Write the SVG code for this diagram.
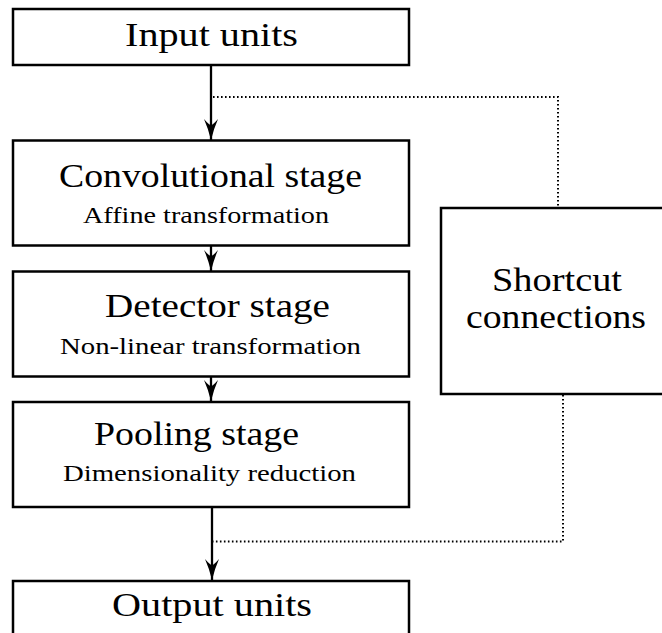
<svg xmlns="http://www.w3.org/2000/svg" width="662" height="633" viewBox="0 0 662 633">
  <style>
    .box { fill: #fff; stroke: #000; stroke-width: 2.5; }
    .flow { fill: none; stroke: #000; stroke-width: 2.3; }
    .dots { fill: none; stroke: #000; stroke-width: 2; stroke-dasharray: 1.6 2.4; }
    .title { font-family: "Liberation Serif", "DejaVu Serif", serif; font-size: 33px; fill: #000; }
    .sub { font-family: "Liberation Serif", "DejaVu Serif", serif; font-size: 23px; fill: #000; }
  </style>
  <defs>
    <marker id="stealth" markerUnits="userSpaceOnUse" viewBox="-24 -9 26 18" refX="0" refY="0" markerWidth="26" markerHeight="18" orient="auto">
      <path d="M0,0 Q-12,-3 -21,-7 Q-15,-1.8 -15,0 Q-15,1.8 -21,7 Q-12,3 0,0 Z" fill="#000"/>
    </marker>
  </defs>

  <g id="connectors">
    <line class="flow" x1="211" y1="65" x2="211" y2="140" marker-end="url(#stealth)"/>
    <line class="flow" x1="211" y1="246" x2="211" y2="271" marker-end="url(#stealth)"/>
    <line class="flow" x1="211" y1="377" x2="211" y2="401" marker-end="url(#stealth)"/>
    <line class="flow" x1="212" y1="508" x2="212" y2="580" marker-end="url(#stealth)"/>
    <polyline class="dots" points="213,97 558,97 558,207"/>
    <polyline class="dots" points="563,395 563,541.5 213,541.5"/>
  </g>

  <g id="input-units">
    <rect class="box" x="13" y="9" width="396" height="56"/>
    <text class="title" x="125" y="46" textLength="173" lengthAdjust="spacingAndGlyphs">Input units</text>
  </g>

  <g id="convolutional-stage">
    <rect class="box" x="13" y="140.5" width="396" height="105"/>
    <text class="title" x="59" y="187" textLength="303" lengthAdjust="spacingAndGlyphs">Convolutional stage</text>
    <text class="sub" x="83" y="222.5" textLength="246" lengthAdjust="spacingAndGlyphs">Affine transformation</text>
  </g>

  <g id="detector-stage">
    <rect class="box" x="13" y="271.5" width="396" height="105"/>
    <text class="title" x="105" y="317" textLength="225" lengthAdjust="spacingAndGlyphs">Detector stage</text>
    <text class="sub" x="60" y="354" textLength="301" lengthAdjust="spacingAndGlyphs">Non-linear transformation</text>
  </g>

  <g id="pooling-stage">
    <rect class="box" x="13" y="402" width="396" height="105"/>
    <text class="title" x="94" y="445" textLength="205" lengthAdjust="spacingAndGlyphs">Pooling stage</text>
    <text class="sub" x="63" y="481" textLength="293" lengthAdjust="spacingAndGlyphs">Dimensionality reduction</text>
  </g>

  <g id="output-units">
    <rect class="box" x="13" y="581" width="396" height="70"/>
    <text class="title" x="112" y="616" textLength="200" lengthAdjust="spacingAndGlyphs">Output units</text>
  </g>

  <g id="shortcut-connections">
    <rect class="box" x="441" y="208" width="232" height="186"/>
    <text class="title" x="492" y="291" textLength="130" lengthAdjust="spacingAndGlyphs">Shortcut</text>
    <text class="title" x="466" y="328" textLength="180" lengthAdjust="spacingAndGlyphs">connections</text>
  </g>
</svg>
